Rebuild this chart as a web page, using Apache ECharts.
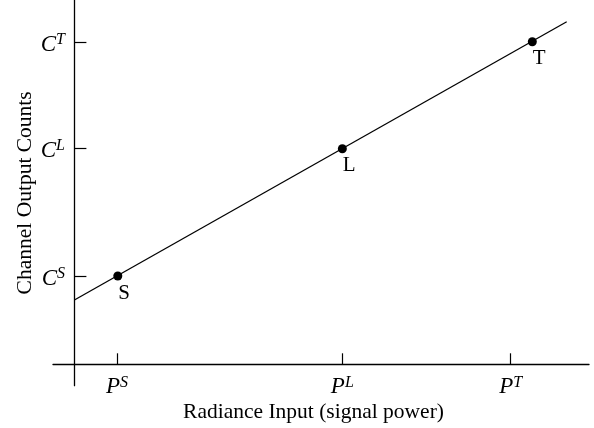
<!DOCTYPE html>
<html>
<head>
<meta charset="utf-8">
<script src="https://cdn.jsdelivr.net/npm/echarts@6/dist/echarts.min.js"></script>
<style>
html,body{margin:0;padding:0;background:#fff;}
#chart{width:594px;height:428px;}
</style>
</head>
<body>
<div id="chart"></div>
<script>
// Abstract units (origin = where the axes cross)
const pointNames = ['S', 'L', 'T'];
const pointX = [43.4, 268, 458];
const pointY = [88.3, 215.5, 322.6];
// Calibration line end points
const lineX = [0, 492.4];
const lineY = [64.3, 342.6];
// Tick positions and labels
const xTickValues = [42.7, 268, 436.4];
const xTickLabels = ['S', 'L', 'T'];   // superscripts of P
const yTickValues = [88.3, 216.3, 322.3];
const yTickLabels = ['S', 'L', 'T'];   // superscripts of C
const xRange = [-21.4, 514.7];
const yRange = [-21.4, 364.3];

const FONT = '"Liberation Serif", "Times New Roman", serif';

const chart = echarts.init(document.getElementById('chart'), null, {renderer: 'canvas'});

const rich = {
  b: {fontFamily: FONT, fontStyle: 'italic', fontSize: 23, color: '#000'},
  s: {fontFamily: FONT, fontStyle: 'italic', fontSize: 16, color: '#000', padding: [0, 0, 9, 0]}
};

function labelFor(values, labels, base) {
  return function (v) {
    let best = 0, bd = Infinity;
    values.forEach((t, i) => { const d = Math.abs(t - v); if (d < bd) { bd = d; best = i; } });
    return '{b|' + base + '}{s|' + labels[best] + '}';
  };
}

const option = {
  animation: false,
  backgroundColor: '#fff',
  grid: {left: 53, right: 5, top: 0, bottom: 42.3, containLabel: false, outerBoundsMode: 'none'},
  xAxis: {
    type: 'value',
    min: xRange[0], max: xRange[1],
    splitLine: {show: false},
    axisLine: {show: true, onZero: true, lineStyle: {color: '#000', width: 1.3}},
    axisTick: {show: true, inside: true, length: 11, customValues: xTickValues, lineStyle: {color: '#000', width: 1.2}},
    axisLabel: {show: true, customValues: xTickValues, margin: -11, formatter: labelFor(xTickValues, xTickLabels, 'P'), rich: rich},
    name: 'Radiance Input (signal power)',
    nameLocation: 'middle',
    nameGap: 16,
    nameMoveOverlap: false,
    nameTextStyle: {fontFamily: FONT, fontSize: 21.5, color: '#000', padding: [0, 15, 0, 0]}
  },
  yAxis: {
    type: 'value',
    min: yRange[0], max: yRange[1],
    splitLine: {show: false},
    axisLine: {show: true, onZero: true, lineStyle: {color: '#000', width: 1.3}},
    axisTick: {show: true, inside: true, length: 12, customValues: yTickValues, lineStyle: {color: '#000', width: 1.2}},
    axisLabel: {show: true, customValues: yTickValues, margin: -12, formatter: labelFor(yTickValues, yTickLabels, 'C'), rich: rich, padding: [5, 0, 0, 0]},
    name: 'Channel Output Counts',
    nameLocation: 'middle',
    nameGap: 17,
    nameMoveOverlap: false,
    nameRotate: 90,
    nameTextStyle: {fontFamily: FONT, fontSize: 21.5, color: '#000'}
  },
  series: [
    {
      type: 'line',
      data: lineX.map((x, i) => [x, lineY[i]]),
      showSymbol: false,
      lineStyle: {color: '#000', width: 1.3},
      silent: true
    },
    {
      type: 'scatter',
      data: pointX.map((x, i) => ({value: [x, pointY[i]], name: pointNames[i]})),
      symbol: 'circle',
      symbolSize: 9,
      itemStyle: {color: '#000', opacity: 1},
      label: {
        show: true,
        formatter: p => p.name,
        position: [5, 11],
        fontFamily: FONT,
        fontSize: 21,
        color: '#000'
      }
    }
  ]
};
chart.setOption(option);
</script>
</body>
</html>
